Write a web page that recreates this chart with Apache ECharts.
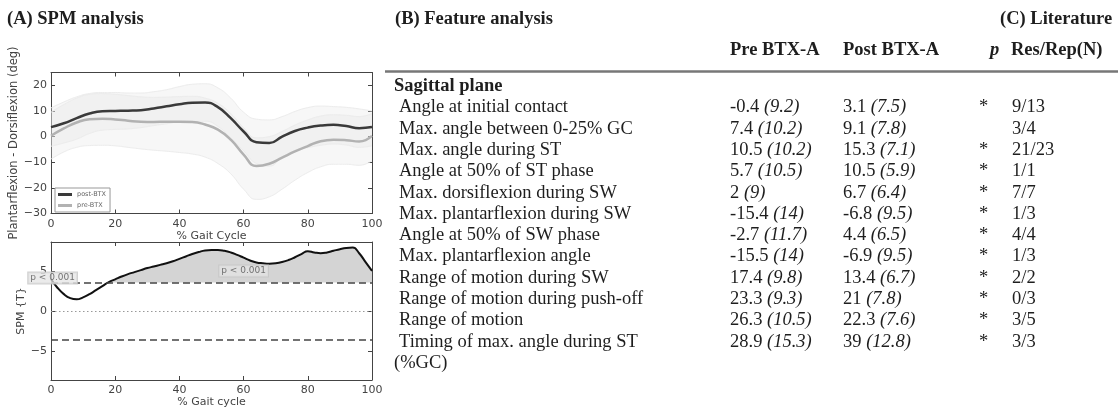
<!DOCTYPE html>
<html><head><meta charset="utf-8">
<script src="https://cdn.jsdelivr.net/npm/echarts@6/dist/echarts.min.js"></script>
<style>html,body{margin:0;padding:0;background:#fff}#c{width:1118px;height:409px}</style>
</head><body><div id="c"></div>
<script>
// ---------- Panel A: mean ankle angle (deg) over the gait cycle ----------
const gaitX     = [0,4,8,12,16,20,24,28,32,36,40,44,48,52,56,60,64,68,72,76,80,84,88,92,96,100];
const postMean  = [3.7,5.2,7.2,9.0,9.9,10.0,10.1,10.3,11.0,11.8,12.6,13.2,13.3,11.5,7.2,2.0,-2.2,-2.5,0.0,2.2,3.5,4.3,4.6,4.1,3.3,3.7];
const postUpper = [11.2,13.5,15.5,16.8,17.2,17.2,17.0,17.0,17.5,18.3,19.5,20.4,20.6,19.0,15.0,9.5,6.8,6.5,7.8,9.8,11.3,11.9,11.7,11.4,10.8,10.0];
const postLower = [-3.8,-2.5,-1.0,1.2,2.5,2.8,3.0,3.5,4.3,5.0,5.8,6.0,6.0,4.0,-0.5,-5.5,-10.5,-11.5,-8.0,-5.5,-4.3,-3.4,-2.9,-3.3,-4.2,-3.6];
const preMean   = [0.3,3.2,5.5,6.8,7.0,6.7,6.2,5.8,5.7,5.8,5.8,5.7,4.7,2.7,-1.2,-7.0,-11.5,-10.6,-8.2,-5.8,-3.7,-1.8,-1.2,-1.4,-1.9,0.3];
const preUpper  = [9.5,12.5,15.0,16.5,16.8,16.5,16.0,15.5,15.3,15.4,15.6,15.7,15.0,13.0,9.0,3.5,-0.5,0.0,2.0,4.5,6.5,8.0,8.5,8.3,7.8,9.0];
const preLower  = [-8.8,-6.0,-4.2,-3.5,-3.4,-3.6,-4.2,-4.8,-5.3,-5.7,-6.2,-6.8,-8.0,-10.5,-14.5,-20.5,-24.5,-23.5,-20.5,-17.0,-14.0,-11.8,-10.8,-10.8,-11.2,-9.4];
// ---------- Panel A: SPM{t} ----------
const spmX = [0,2,4,6,8,10,12,14,16,18,20,22,24,26,28,30,32,34,36,38,40,42,44,46,48,50,52,54,56,58,60,62,64,66,68,70,72,74,76,78,80,82,84,86,88,90,92,94,96,98,100];
const spmT = [4.0,2.9,2.1,1.6,1.45,1.7,2.1,2.6,3.1,3.6,3.95,4.3,4.6,4.85,5.1,5.35,5.55,5.75,5.95,6.2,6.5,6.8,7.1,7.35,7.55,7.6,7.6,7.5,7.3,7.0,6.65,6.3,6.05,5.95,5.9,5.95,6.1,6.35,6.7,7.1,7.45,7.3,7.2,7.3,7.5,7.7,7.85,7.9,7.2,6.1,5.0];
const spmThreshold = 3.55;
const clusterLabels = [[0.5, 4.1, 'p < 0.001'], [60, 5.0, 'p < 0.001']];
const spmTickValues = [-5, 0, 5];
// ---------- Panel B / C: table ----------
const features = ['Angle at initial contact','Max. angle between 0-25% GC','Max. angle during ST','Angle at 50% of ST phase','Max. dorsiflexion during SW','Max. plantarflexion during SW','Angle at 50% of SW phase','Max. plantarflexion angle','Range of motion during SW','Range of motion during push-off','Range of motion','Timing of max. angle during ST'];
const preM   = [-0.4, 7.4, 10.5, 5.7, 2, -15.4, -2.7, -15.5, 17.4, 23.3, 26.3, 28.9];
const preSD  = [9.2, 10.2, 10.2, 10.5, 9, 14, 11.7, 14, 9.8, 9.3, 10.5, 15.3];
const postM  = [3.1, 9.1, 15.3, 10.5, 6.7, -6.8, 4.4, -6.9, 13.4, 21, 22.3, 39];
const postSD = [7.5, 7.8, 7.1, 5.9, 6.4, 9.5, 6.5, 9.5, 6.7, 7.8, 7.6, 12.8];
const pSig   = ['*','','*','*','*','*','*','*','*','*','*','*'];
const litRes = ['9/13','3/4','21/23','1/1','7/7','1/3','4/4','1/3','2/2','0/3','3/5','3/3'];

const PF = 'DejaVu Sans', SF = 'Liberation Serif';
const AX = '#444';
const fmt = v => (v < 0 ? '\u2212' + Math.abs(v) : '' + v);
const pair = (xs, ys) => xs.map((x, i) => [x, ys[i]]);
// value first so that stacking happens on the y dimension (encode maps it back)
const pairYX = (xs, ys) => xs.map((x, i) => [ys[i], x]);
const YX = { x: 1, y: 0 };

function xAx(grid, pos, labels, name) {
  return {
    type: 'value', gridIndex: grid, position: pos, min: 0, max: 100, interval: 20,
    axisLine: { show: true, onZero: false, lineStyle: { color: AX, width: 1 } },
    axisTick: { show: true, inside: true, length: 4, lineStyle: { color: AX } },
    axisLabel: { show: labels, margin: 5, fontFamily: PF, fontSize: 11, color: '#444', formatter: fmt },
    splitLine: { show: false },
    name: name || '', nameLocation: 'middle', nameGap: 17,
    nameTextStyle: { fontFamily: PF, fontSize: 11, color: '#444' }
  };
}
const sharedY = {
  axisLine: { show: true, onZero: false, lineStyle: { color: AX, width: 1 } },
  splitLine: { show: false }
};

const bandBase = (data, stack) => ({
  type: 'line', xAxisIndex: 0, yAxisIndex: 0, data, encode: YX, stack, stackStrategy: 'all',
  smooth: true, symbol: 'none', silent: true, lineStyle: { opacity: 0 }, z: 1
});
const bandFill = (data, stack) => ({
  type: 'line', xAxisIndex: 0, yAxisIndex: 0, data, encode: YX, stack, stackStrategy: 'all',
  smooth: true, symbol: 'none', silent: true, lineStyle: { opacity: 0 },
  areaStyle: { color: '#e4e4e4', opacity: 0.3 }, z: 1
});
const edge = data => ({
  type: 'line', xAxisIndex: 0, yAxisIndex: 0, data, smooth: true, symbol: 'none', silent: true,
  lineStyle: { color: '#ececec', width: 1 }, z: 2
});

// table graphic
const g = [];
const txt = (x, y, text, o) => g.push(Object.assign({ type: 'text', silent: true, style: Object.assign({
  x, y, text, fontFamily: SF, fontSize: 18.5, fill: '#1e1e1e', verticalAlign: 'middle'
}, o || {}) }));
const mid = b => b - 6;
txt(7, mid(25.5), '(A) SPM analysis', { fontWeight: 'bold' });
txt(395, mid(25.5), '(B) Feature analysis', { fontWeight: 'bold' });
txt(1000, mid(25.5), '(C) Literature', { fontWeight: 'bold' });
txt(730, mid(56), 'Pre BTX-A', { fontWeight: 'bold' });
txt(843, mid(56), 'Post BTX-A', { fontWeight: 'bold' });
txt(990, mid(56), 'p', { fontWeight: 'bold', fontStyle: 'italic' });
txt(1011, mid(56), 'Res/Rep(N)', { fontWeight: 'bold' });
g.push({ type: 'line', silent: true, shape: { x1: 385, y1: 71.5, x2: 1118, y2: 71.5 }, style: { stroke: '#777', lineWidth: 2.5 } });
txt(394, mid(92), 'Sagittal plane', { fontWeight: 'bold' });
const rich = { n: { fontFamily: SF, fontSize: 18.5, fill: '#1e1e1e' }, i: { fontFamily: SF, fontSize: 18.5, fontStyle: 'italic', fill: '#1e1e1e' } };
features.forEach((f, k) => {
  const b = 113.5 + 21.3 * k;
  txt(399, mid(b), f);
  txt(730, mid(b), '{n|' + preM[k] + '} {i|(' + preSD[k] + ')}', { rich });
  txt(843, mid(b), '{n|' + postM[k] + '} {i|(' + postSD[k] + ')}', { rich });
  if (pSig[k]) txt(979, mid(b), pSig[k]);
  txt(1012, mid(b), litRes[k]);
});
txt(394, mid(113.5 + 21.3 * 12), '(%GC)');

const chart = echarts.init(document.getElementById('c'), null, { renderer: 'canvas' });
chart.setOption({
  animation: false,
  backgroundColor: '#fff',
  grid: [
    { left: 51, top: 72.5, width: 321, height: 141 },
    { left: 51, top: 242, width: 321, height: 141 }
  ],
  xAxis: [
    xAx(0, 'bottom', true, '% Gait Cycle'),
    xAx(0, 'top', false),
    xAx(1, 'bottom', true, '% Gait cycle'),
    xAx(1, 'top', false)
  ],
  yAxis: [
    Object.assign({ type: 'value', gridIndex: 0, position: 'left', min: -30, max: 25, interval: 10,
      axisTick: { show: true, inside: true, length: 4, lineStyle: { color: AX } },
      axisLabel: { margin: 4, fontFamily: PF, fontSize: 11, color: '#444', formatter: v => (v > 20 ? '' : fmt(v)) },
      name: 'Plantarflexion - Dorsiflexion (deg)', nameLocation: 'middle', nameGap: 31,
      nameTextStyle: { fontFamily: PF, fontSize: 11.5, color: '#444' } }, sharedY),
    Object.assign({ type: 'value', gridIndex: 0, position: 'right', min: -30, max: 25, interval: 10,
      axisTick: { show: true, inside: true, length: 4, lineStyle: { color: AX } },
      axisLabel: { show: false } }, sharedY),
    Object.assign({ type: 'value', gridIndex: 1, position: 'left', min: -8.6, max: 8.6,
      axisTick: { show: true, inside: true, length: 4, customValues: spmTickValues, lineStyle: { color: AX } },
      axisLabel: { margin: 4, fontFamily: PF, fontSize: 11, color: '#444', customValues: spmTickValues, formatter: fmt },
      name: 'SPM {T}', nameLocation: 'middle', nameGap: 24,
      nameTextStyle: { fontFamily: PF, fontSize: 11, color: '#444' } }, sharedY),
    Object.assign({ type: 'value', gridIndex: 1, position: 'right', min: -8.6, max: 8.6,
      axisTick: { show: true, inside: true, length: 4, customValues: spmTickValues, lineStyle: { color: AX } },
      axisLabel: { show: false } }, sharedY)
  ],
  legend: {
    left: 55, top: 188, orient: 'vertical', selectedMode: false,
    data: [{ name: 'post-BTX', icon: 'rect' }, { name: 'pre-BTX', icon: 'rect' }],
    itemWidth: 14, itemHeight: 3, itemGap: 4, padding: [3, 4, 3, 3],
    borderColor: '#999', borderWidth: 1, backgroundColor: '#fff',
    textStyle: { fontFamily: PF, fontSize: 6.5, color: '#666' }
  },
  series: [
    bandBase(pairYX(gaitX, preLower), 'pre'),
    bandFill(pairYX(gaitX, preUpper.map((u, i) => u - preLower[i])), 'pre'),
    bandBase(pairYX(gaitX, postLower), 'post'),
    bandFill(pairYX(gaitX, postUpper.map((u, i) => u - postLower[i])), 'post'),
    edge(pair(gaitX, preUpper)), edge(pair(gaitX, preLower)),
    edge(pair(gaitX, postUpper)), edge(pair(gaitX, postLower)),
    { name: 'pre-BTX', type: 'line', xAxisIndex: 0, yAxisIndex: 0, data: pair(gaitX, preMean), smooth: true,
      symbol: 'none', lineStyle: { color: '#b2b2b2', width: 2.5 }, itemStyle: { color: '#b2b2b2' }, z: 3 },
    { name: 'post-BTX', type: 'line', xAxisIndex: 0, yAxisIndex: 0, data: pair(gaitX, postMean), smooth: true,
      symbol: 'none', lineStyle: { color: '#3a3a3a', width: 2.5 }, itemStyle: { color: '#3a3a3a' }, z: 4 },
    // SPM panel
    { type: 'line', xAxisIndex: 2, yAxisIndex: 2, data: spmX.map(x => [spmThreshold, x]), encode: YX, stack: 'spm', stackStrategy: 'all',
      smooth: true, symbol: 'none', silent: true, lineStyle: { opacity: 0 }, z: 1 },
    { type: 'line', xAxisIndex: 2, yAxisIndex: 2, data: pairYX(spmX, spmT.map(t => Math.max(t - spmThreshold, 0))), encode: YX, stack: 'spm', stackStrategy: 'all',
      smooth: true, symbol: 'none', silent: true, lineStyle: { opacity: 0 }, areaStyle: { color: '#d4d4d4', opacity: 1 }, z: 1 },
    { type: 'line', xAxisIndex: 2, yAxisIndex: 2, data: pair(spmX, spmT), smooth: true, symbol: 'none',
      lineStyle: { color: '#111', width: 2 }, z: 4,
      markLine: { silent: true, symbol: 'none', label: { show: false },
        data: [
          { yAxis: 0, lineStyle: { color: '#999', type: [1.5, 2.5], width: 1.2 } },
          { yAxis: spmThreshold, lineStyle: { color: '#444', type: [7, 4], width: 1.5 } },
          { yAxis: -spmThreshold, lineStyle: { color: '#444', type: [7, 4], width: 1.5 } }
        ] } },
    { type: 'scatter', xAxisIndex: 2, yAxisIndex: 2, data: clusterLabels, symbolSize: 1, clip: false,
      itemStyle: { color: 'transparent' }, z: 6,
      label: { show: true, position: 'inside', formatter: p => p.data[2], fontFamily: PF, fontSize: 9, color: '#555',
        backgroundColor: 'rgba(228,228,228,0.92)', borderColor: '#c4c4c4', borderWidth: 1, padding: [1, 2] } }
  ],
  graphic: { elements: g }
});
</script></body></html>
